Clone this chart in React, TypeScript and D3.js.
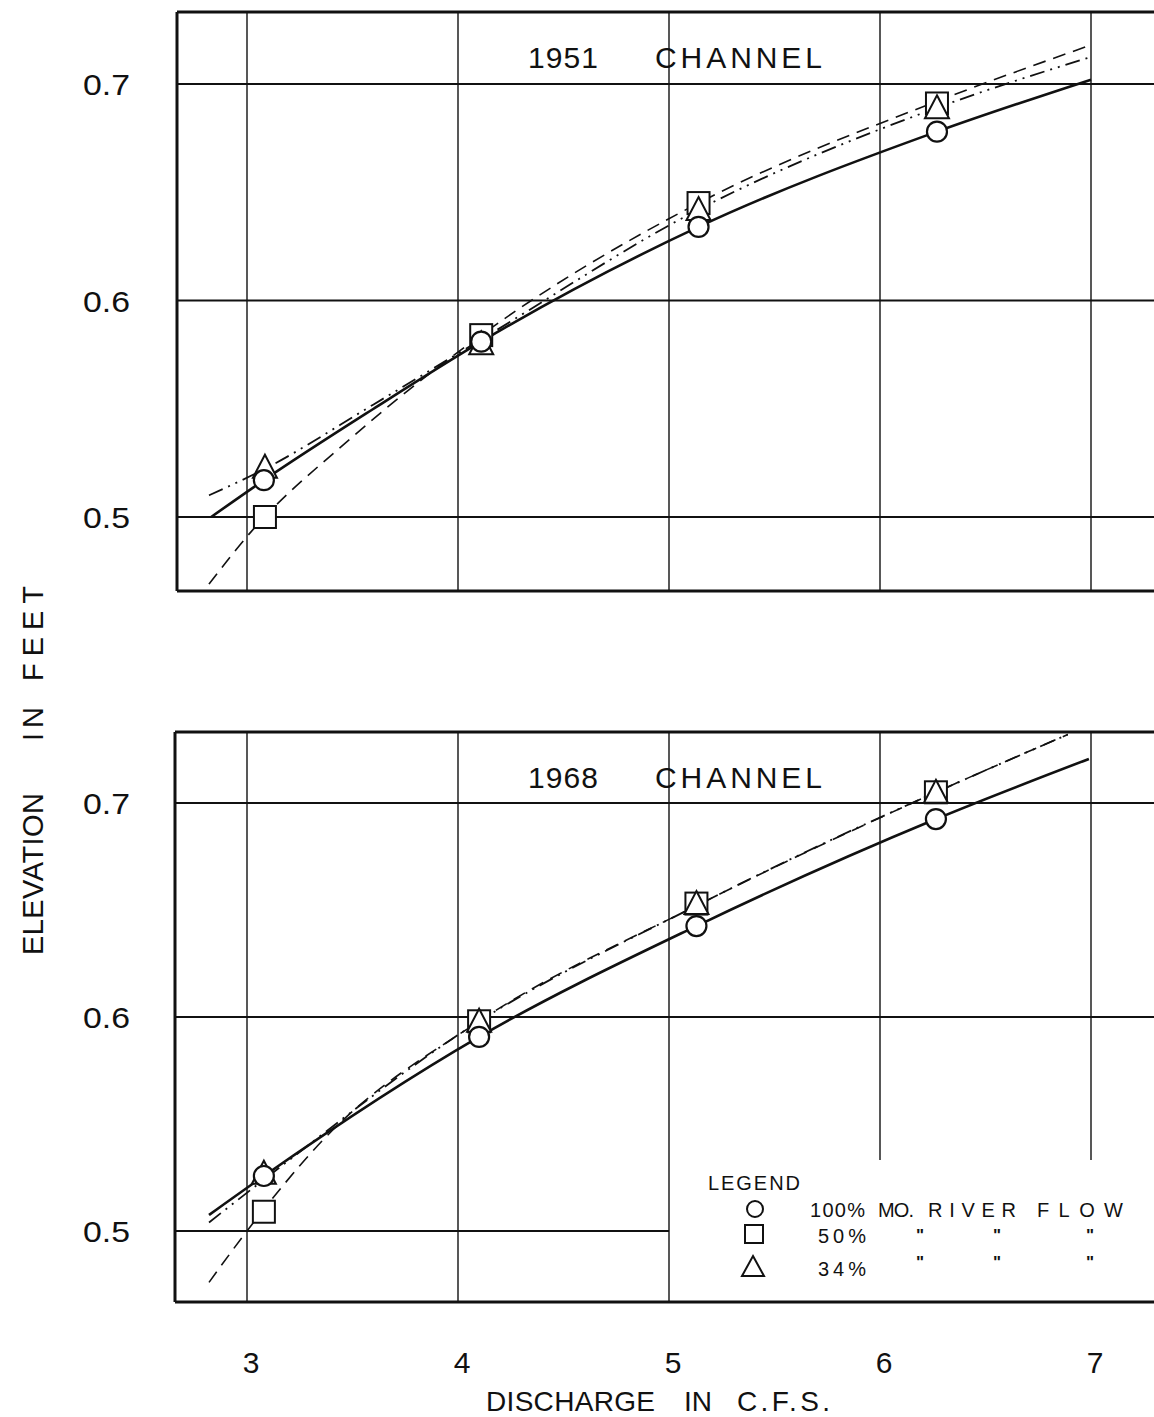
import React from "react";
import * as d3 from "d3";

// ---- data ----
const xTicks = [3, 4, 5, 6, 7];
const yTicks = [0.5, 0.6, 0.7];
const yTickLabels = ["0.5", "0.6", "0.7"];

// 1951 channel observed points [discharge, elevation]
const pts100_1951: [number, number][] = [[3.08, 0.517], [4.11, 0.581], [5.14, 0.634], [6.27, 0.678]];
const pts50_1951: [number, number][] = [[3.085, 0.5], [4.11, 0.584], [5.14, 0.645], [6.27, 0.691]];
const pts34_1951: [number, number][] = [[3.085, 0.523], [4.11, 0.58], [5.14, 0.642], [6.27, 0.689]];
// 1951 fitted curves
const curve100_1951: [number, number][] = [[2.83, 0.5], [3.08, 0.517], [3.6, 0.55], [4.11, 0.581], [5.14, 0.634], [6.27, 0.678], [7.0, 0.702]];
const curve50_1951: [number, number][] = [[2.82, 0.469], [3.0, 0.491], [3.5, 0.537], [4.11, 0.584], [5.14, 0.645], [6.27, 0.692], [7.0, 0.718]];
const curve34_1951: [number, number][] = [[2.82, 0.51], [3.08, 0.522], [3.6, 0.552], [4.11, 0.582], [5.14, 0.642], [6.27, 0.689], [7.0, 0.7125]];

// 1968 channel observed points
const pts100_1968: [number, number][] = [[3.08, 0.5257], [4.1, 0.5907], [5.13, 0.6425], [6.265, 0.6925]];
const pts50_1968: [number, number][] = [[3.08, 0.509], [4.1, 0.598], [5.13, 0.653], [6.265, 0.705]];
const pts34_1968: [number, number][] = [[3.08, 0.527], [4.1, 0.598], [5.13, 0.653], [6.265, 0.705]];
// 1968 fitted curves
const curve100_1968: [number, number][] = [[2.82, 0.5075], [3.08, 0.5257], [4.1, 0.5907], [5.13, 0.6425], [6.265, 0.6925], [6.99, 0.7206]];
const curve50_1968: [number, number][] = [[2.82, 0.476], [3.0, 0.5], [3.36, 0.5425], [4.1, 0.598], [5.13, 0.652], [6.265, 0.705], [6.89, 0.732]];
const curve34_1968: [number, number][] = [[2.82, 0.504], [3.08, 0.524], [4.1, 0.598], [5.13, 0.652], [5.645, 0.677], [6.265, 0.705], [6.89, 0.732]];

const legendLabels = ["100%", "50%", "34%"];

const FONT = "'Liberation Sans', Arial, sans-serif";
const INK = "#111";

const x = d3.scaleLinear().domain([3, 7]).range([247, 1091]);

type PanelProps = {
  year: string;
  y: d3.ScaleLinear<number, number>;
  top: number;
  bottom: number;
  left: number;
  curves: [number, number][][];
  pts: [number, number][][];
  lower?: boolean;
};

const styles = [
  { w: 2.6, dash: "" },
  { w: 1.6, dash: "13 8" },
  { w: 1.8, dash: "15 6 2 6 2 6" },
];

function Marker({ kind, cx, cy }: { kind: number; cx: number; cy: number }) {
  if (kind === 0) return <circle cx={cx} cy={cy} r={10} fill="white" stroke={INK} strokeWidth={2.2} />;
  if (kind === 1) return <rect x={cx - 11} y={cy - 11} width={22} height={22} fill="white" stroke={INK} strokeWidth={2} />;
  const h = 21, w = 24;
  return <path d={`M${cx},${cy - h / 2 - 2} L${cx + w / 2},${cy + h / 2} L${cx - w / 2},${cy + h / 2} Z`} fill="white" stroke={INK} strokeWidth={2} />;
}

function Panel({ year, y, top, bottom, left, curves, pts, lower }: PanelProps) {
  const line = d3.line<[number, number]>().x(d => x(d[0])).y(d => y(d[1])).curve(d3.curveMonotoneX);
  return (
    <g>
      {/* grid */}
      {xTicks.map(t => {
        const stopEarly = lower && t >= 6;
        return <line key={"v" + t} x1={x(t)} x2={x(t)} y1={top} y2={stopEarly ? 1160 : bottom} stroke={INK} strokeWidth={1.4} />;
      })}
      {yTicks.map(t => {
        const stopEarly = lower && t === 0.5;
        return <line key={"h" + t} x1={left} x2={stopEarly ? x(5) : 1154} y1={y(t)} y2={y(t)} stroke={INK} strokeWidth={1.8} />;
      })}
      {/* frame */}
      <line x1={left} x2={1154} y1={top} y2={top} stroke={INK} strokeWidth={3} />
      <line x1={left} x2={1154} y1={bottom} y2={bottom} stroke={INK} strokeWidth={3} />
      <line x1={left} x2={left} y1={top} y2={bottom} stroke={INK} strokeWidth={3} />
      {/* y tick labels */}
      {yTicks.map((t, i) => (
        <text key={"yl" + t} x={83} y={y(t) + 11} fontSize={30} fontFamily={FONT} fill={INK} textLength={47} lengthAdjust="spacingAndGlyphs">{yTickLabels[i]}</text>
      ))}
      {/* title */}
      <text x={528} y={top + 56} fontSize={30} fontFamily={FONT} fill={INK} textLength={70} lengthAdjust="spacing">{year}</text>
      <text x={655} y={top + 56} fontSize={30} fontFamily={FONT} fill={INK} textLength={167} lengthAdjust="spacing">CHANNEL</text>
      {/* curves */}
      {curves.map((c, i) => (
        <path key={"c" + i} d={line(c) || ""} fill="none" stroke={INK} strokeWidth={styles[i].w} strokeDasharray={styles[i].dash} />
      ))}
      {/* markers: draw squares, triangles, then circles */}
      {[1, 2, 0].map(k => pts[k].map((p, j) => <Marker key={`m${k}-${j}`} kind={k} cx={x(p[0])} cy={y(p[1])} />))}
    </g>
  );
}

export default function App() {
  const yTop = d3.scaleLinear().domain([0.5, 0.7]).range([517, 84]);
  const yBot = d3.scaleLinear().domain([0.5, 0.7]).range([1231, 803]);
  const rows = [1209, 1234, 1267];
  return (
    <svg width={1154} height={1417} style={{ position: "absolute", left: 0, top: 0, background: "white" }}>
      <rect width={1154} height={1417} fill="white" />
      <Panel year="1951" y={yTop} top={12} bottom={591} left={177}
        curves={[curve100_1951, curve50_1951, curve34_1951]} pts={[pts100_1951, pts50_1951, pts34_1951]} />
      <Panel year="1968" y={yBot} top={732} bottom={1302} left={175} lower
        curves={[curve100_1968, curve50_1968, curve34_1968]} pts={[pts100_1968, pts50_1968, pts34_1968]} />
      {/* x tick labels */}
      {xTicks.map(t => (
        <text key={"xl" + t} x={x(t) + 4} y={1373} textAnchor="middle" fontSize={30} fontFamily={FONT} fill={INK}>{t}</text>
      ))}
      <g fontSize={28} fontFamily={FONT} fill={INK}>
        <text x={486} y={1411} textLength={169} lengthAdjust="spacing">DISCHARGE</text>
        <text x={684} y={1411} textLength={28} lengthAdjust="spacing">IN</text>
        <text x={737} y={1411} textLength={93} lengthAdjust="spacing">C.F.S.</text>
      </g>
      <g fontSize={29} fontFamily={FONT} fill={INK}>
        <text transform="translate(43,955) rotate(-90)" textLength={162} lengthAdjust="spacing">ELEVATION</text>
        <text transform="translate(43,741) rotate(-90)" textLength={34} lengthAdjust="spacing">IN</text>
        <text transform="translate(43,681) rotate(-90)" textLength={95} lengthAdjust="spacing">FEET</text>
      </g>
      {/* legend */}
      <g fontFamily={FONT} fill={INK}>
        <text x={708} y={1190} fontSize={20} textLength={92} lengthAdjust="spacing">LEGEND</text>
        <circle cx={755} cy={rows[0]} r={8} fill="white" stroke={INK} strokeWidth={2} />
        <rect x={745} y={rows[1] - 9} width={18} height={18} fill="white" stroke={INK} strokeWidth={2} />
        <path d={`M753,${rows[2] - 11} L764,${rows[2] + 9} L742,${rows[2] + 9} Z`} fill="white" stroke={INK} strokeWidth={2} />
        <text x={810} y={rows[0] + 8} fontSize={20} textLength={55} lengthAdjust="spacing">{legendLabels[0]}</text>
        <text x={818} y={rows[1] + 9} fontSize={20} textLength={48} lengthAdjust="spacing">{legendLabels[1]}</text>
        <text x={818} y={rows[2] + 9} fontSize={20} textLength={48} lengthAdjust="spacing">{legendLabels[2]}</text>
        <text x={878} y={rows[0] + 8} fontSize={20} textLength={36} lengthAdjust="spacing">MO.</text>
        <text x={928} y={rows[0] + 8} fontSize={20} textLength={88} lengthAdjust="spacing">RIVER</text>
        <text x={1037} y={rows[0] + 8} fontSize={20} textLength={86} lengthAdjust="spacing">FLOW</text>
        {[rows[1] - 1, rows[2] - 7].map((ry, i) => (
          <g key={"d" + i}>
            {[920, 997, 1090].map(dx => (
              <text key={dx} x={dx} y={ry + 8} fontSize={17} fontWeight="bold" textAnchor="middle">"</text>
            ))}
          </g>
        ))}
      </g>
    </svg>
  );
}
